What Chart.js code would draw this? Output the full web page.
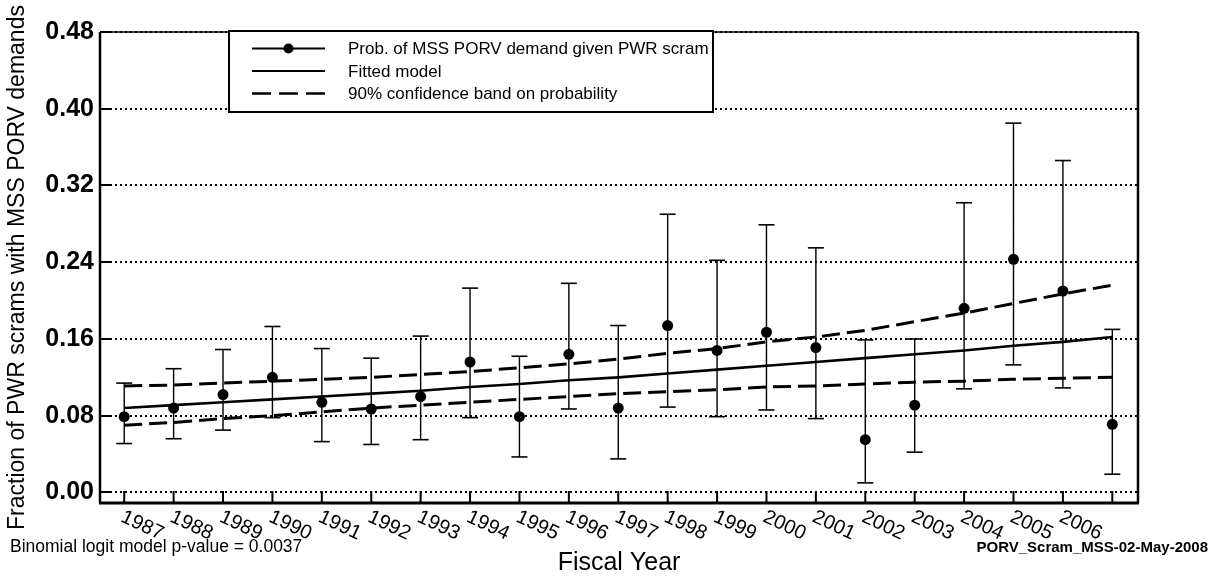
<!DOCTYPE html>
<html>
<head>
<meta charset="utf-8">
<script src="https://cdn.jsdelivr.net/npm/chart.js@4.4.1/dist/chart.umd.min.js"></script>
<style>
html,body{margin:0;padding:0;background:#fff;}
#wrap{width:1218px;height:587px;position:relative;}
</style>
</head>
<body>
<div id="wrap"><canvas id="c" width="1218" height="587"></canvas></div>
<script>
// ---- data ----
const years = [1987,1988,1989,1990,1991,1992,1993,1994,1995,1996,1997,1998,1999,2000,2001,2002,2003,2004,2005,2006,2007];
const tickLabels = ['1987','1988','1989','1990','1991','1992','1993','1994','1995','1996','1997','1998','1999','2000','2001','2002','2003','2004','2005','2006'];
const yTicks = [0.00,0.08,0.16,0.24,0.32,0.40,0.48];

const prob    = [0.079,0.088,0.102,0.120,0.094,0.087,0.100,0.136,0.079,0.144,0.088,0.174,0.148,0.167,0.151,0.055,0.091,0.192,0.243,0.210,0.071];
const errLow  = [0.051,0.056,0.065,0.078,0.053,0.050,0.055,0.078,0.037,0.087,0.035,0.089,0.079,0.086,0.077,0.010,0.042,0.108,0.133,0.109,0.019];
const errHigh = [0.114,0.129,0.149,0.173,0.150,0.140,0.163,0.213,0.142,0.218,0.174,0.290,0.242,0.279,0.255,0.159,0.160,0.302,0.385,0.346,0.170];

const fitted   = [0.088,0.091,0.094,0.097,0.100,0.103,0.106,0.110,0.113,0.117,0.120,0.124,0.128,0.132,0.136,0.140,0.144,0.148,0.153,0.157,0.162];
const bandHigh = [0.111,0.112,0.114,0.116,0.118,0.120,0.123,0.126,0.130,0.134,0.139,0.145,0.150,0.157,0.162,0.169,0.178,0.187,0.197,0.207,0.216];
const bandLow  = [0.070,0.073,0.077,0.080,0.084,0.088,0.091,0.094,0.097,0.100,0.103,0.105,0.107,0.110,0.111,0.113,0.115,0.116,0.118,0.119,0.120];

const legendItems = ['Prob. of MSS PORV demand given PWR scram','Fitted model','90% confidence band on probability'];
const yTitle = 'Fraction of PWR scrams with MSS PORV demands';
const xTitle = 'Fiscal Year';
const noteLeft = 'Binomial logit model p-value = 0.0037';
const noteRight = 'PORV_Scram_MSS-02-May-2008';

// ---- build library structures ----
const FONT = '"Liberation Sans", Arial, Helvetica, sans-serif';
const toPts = arr => years.map((yr,i)=>({x:yr, y:arr[i]}));
const errSegData = [];
years.forEach((yr,i)=>{ errSegData.push({x:yr,y:errLow[i]},{x:yr,y:errHigh[i]},{x:yr,y:null}); });
const capData = [];
years.forEach((yr,i)=>{ capData.push({x:yr,y:errLow[i]},{x:yr,y:errHigh[i]}); });

const deco = {
  id: 'deco',
  beforeDatasetsDraw(chart){
    const {ctx, chartArea:a, scales:{y}} = chart;
    ctx.save();
    ctx.strokeStyle = '#000';
    ctx.lineWidth = 2;
    ctx.setLineDash([2,3]);
    yTicks.forEach(v=>{
      const py = Math.round(y.getPixelForValue(v));
      ctx.beginPath(); ctx.moveTo(a.left, py); ctx.lineTo(a.right, py); ctx.stroke();
    });
    ctx.restore();
  },
  afterDraw(chart){
    const {ctx, chartArea:a, scales:{x,y}} = chart;
    ctx.save();
    ctx.strokeStyle = '#000';
    ctx.fillStyle = '#000';
    ctx.setLineDash([]);
    // frame
    ctx.lineWidth = 2.5;
    ctx.beginPath(); ctx.moveTo(a.left, a.top); ctx.lineTo(a.left, a.bottom); ctx.stroke();
    ctx.beginPath(); ctx.moveTo(a.right, a.top); ctx.lineTo(a.right, a.bottom); ctx.stroke();
    ctx.lineWidth = 3;
    ctx.beginPath(); ctx.moveTo(a.left-1, a.bottom); ctx.lineTo(a.right+1, a.bottom); ctx.stroke();
    ctx.lineWidth = 1.5;
    ctx.beginPath(); ctx.moveTo(a.left, a.top); ctx.lineTo(a.right, a.top); ctx.stroke();
    // inward tick marks
    ctx.lineWidth = 2;
    years.forEach(yr=>{
      const px = x.getPixelForValue(yr);
      ctx.beginPath(); ctx.moveTo(px, a.bottom); ctx.lineTo(px, a.bottom-12); ctx.stroke();
    });
    yTicks.forEach(v=>{
      const py = Math.round(y.getPixelForValue(v));
      ctx.beginPath(); ctx.moveTo(a.left, py); ctx.lineTo(a.left+10, py); ctx.stroke();
    });
    // rotated x tick labels
    ctx.font = '20px ' + FONT;
    ctx.textAlign = 'left';
    ctx.textBaseline = 'top';
    tickLabels.forEach((t,i)=>{
      const px = x.getPixelForValue(years[i]);
      ctx.save();
      ctx.translate(px+2, a.bottom+4);
      ctx.rotate(25*Math.PI/180);
      ctx.fillText(t, 0, 0);
      ctx.restore();
    });
    // legend box
    const L = 229, R = 713, T = 31, B = 112;
    ctx.fillStyle = '#fff';
    ctx.fillRect(L, T, R-L, B-T);
    ctx.lineWidth = 2;
    ctx.strokeRect(L, T, R-L, B-T);
    ctx.fillStyle = '#000';
    const rows = [48.5, 71, 93.5];
    const sx0 = 252, sx1 = 325, tx = 348;
    ctx.lineWidth = 2;
    ctx.beginPath(); ctx.moveTo(sx0, rows[0]); ctx.lineTo(sx1, rows[0]); ctx.stroke();
    ctx.beginPath(); ctx.arc((sx0+sx1)/2, rows[0], 5, 0, Math.PI*2); ctx.fill();
    ctx.lineWidth = 2.2;
    ctx.beginPath(); ctx.moveTo(sx0, rows[1]); ctx.lineTo(sx1, rows[1]); ctx.stroke();
    ctx.lineWidth = 2.5;
    ctx.setLineDash([19,8]);
    ctx.beginPath(); ctx.moveTo(sx0, rows[2]); ctx.lineTo(sx1, rows[2]); ctx.stroke();
    ctx.setLineDash([]);
    ctx.font = '17px ' + FONT;
    ctx.textBaseline = 'middle';
    legendItems.forEach((t,i)=>{ ctx.fillText(t, tx, rows[i]+1); });
    // notes
    ctx.font = '17.5px ' + FONT;
    ctx.textAlign = 'left';
    ctx.fillText(noteLeft, 10, 547);
    ctx.font = 'bold 15px ' + FONT;
    ctx.textAlign = 'right';
    ctx.fillText(noteRight, 1208, 548);
    ctx.restore();
  }
};

new Chart(document.getElementById('c'), {
  type: 'scatter',
  data: {
    datasets: [
      { label: legendItems[0], data: toPts(prob), showLine: false,
        pointRadius: 5.5, pointBackgroundColor: '#000', pointBorderColor: '#000', pointBorderWidth: 0, order: 0 },
      { label: legendItems[1], data: toPts(fitted), showLine: true, borderColor: '#000', borderWidth: 2.6,
        pointRadius: 0, tension: 0, order: 1 },
      { label: legendItems[2], data: toPts(bandHigh), showLine: true, borderColor: '#000', borderWidth: 3,
        borderDash: [18,7], pointRadius: 0, tension: 0, order: 2 },
      { label: 'lower band', data: toPts(bandLow), showLine: true, borderColor: '#000', borderWidth: 3,
        borderDash: [18,7], pointRadius: 0, tension: 0, order: 3 },
      { label: 'error bars', data: errSegData, showLine: true, spanGaps: false, borderColor: '#000', borderWidth: 1.4,
        pointRadius: 0, order: 4 },
      { label: 'error caps', data: capData, showLine: false, pointStyle: 'line', pointRadius: 8,
        pointBorderColor: '#000', pointBorderWidth: 1.6, order: 5 }
    ]
  },
  options: {
    responsive: false,
    animation: false,
    devicePixelRatio: 1,
    events: [],
    layout: { padding: { top: 32, right: 80, bottom: 0, left: 0 } },
    plugins: { legend: { display: false }, tooltip: { enabled: false } },
    scales: {
      x: {
        type: 'linear', min: 1986.51, max: 2007.52,
        ticks: { display: false },
        grid: { display: false, drawTicks: false },
        border: { display: false },
        afterFit: s => { s.height = 84; },
        title: { display: true, text: xTitle, color: '#000',
                 font: { family: FONT, size: 25 }, padding: { top: 0, bottom: 9 } }
      },
      y: {
        type: 'linear', min: -0.011, max: 0.48,
        afterBuildTicks: s => { s.ticks = yTicks.map(v => ({ value: v })); },
        afterFit: s => { s.width = 100; },
        ticks: { color: '#000', font: { family: FONT, size: 25, weight: 'bold' }, padding: 6,
                 callback: v => Number(v).toFixed(2) },
        grid: { display: false, drawTicks: false },
        border: { display: false },
        title: { display: true, text: yTitle, color: '#000',
                 font: { family: FONT, size: 23 }, padding: { top: 4, bottom: 0 } }
      }
    }
  },
  plugins: [deco]
});
</script>
</body>
</html>
